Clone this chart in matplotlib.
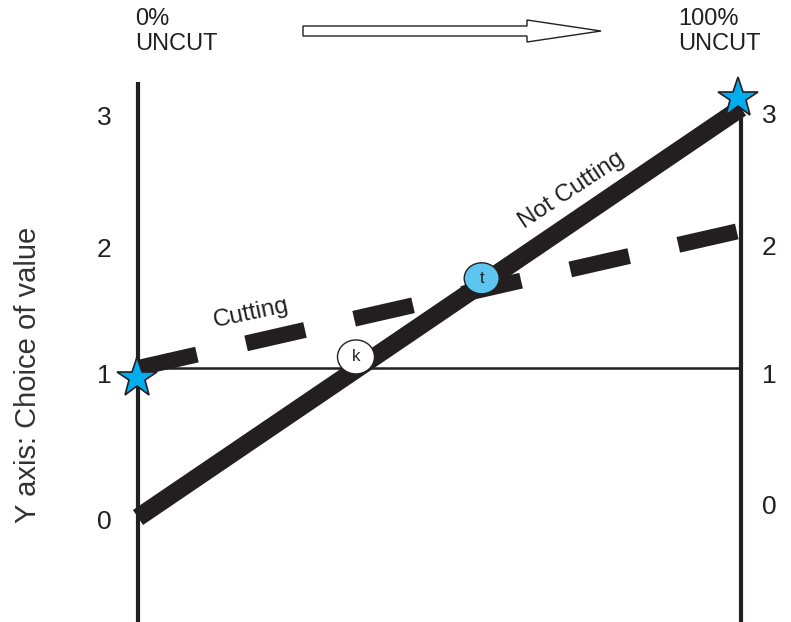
import matplotlib
matplotlib.use("Agg")
import matplotlib.pyplot as plt
from matplotlib.patches import FancyArrow, Ellipse

plt.rcParams['font.family'] = ['Liberation Sans', 'DejaVu Sans']

# ---- data ----
x_ends = [0.0, 1.0]
not_cutting_y = [-0.15, 3.0]          # solid line
cutting_x = [0.0, 0.993]
cutting_y = [1.0, 2.05]               # dashed line
baseline_y = [1.0, 1.0]
star_x = [-0.002, 0.995]
star_y = [0.92, 3.08]
k_point = (0.3615, 1.085)
t_point = (0.570, 1.69)
tick_labels = ["0", "1", "2", "3"]
left_tick_pos = [-0.185, 0.938, 1.908, 2.923]
right_tick_pos = [-0.069, 0.938, 1.923, 2.938]
left_axis_top = 3.2
right_axis_top = 3.0

W, H = 791, 622
fig = plt.figure(figsize=(W / 100, H / 100), dpi=100)
ax = fig.add_axes([0, 0, 1, 1])
# pixel mapping: x=0 -> 138px, x=1 -> 741px ; y=1 -> 368px, 130px per unit
ax.set_xlim(-138 / 603, (W - 138) / 603)
ax.set_ylim(1 - (H - 368) / 130, 1 + 368 / 130)
ax.axis('off')

ink = '#231f20'
ybot = 1 - (H - 368) / 130

# vertical axis lines
ax.plot([0, 0], [ybot, left_axis_top], color=ink, lw=3, solid_capstyle='butt', zorder=2)
ax.plot([1, 1], [ybot, right_axis_top], color=ink, lw=3, solid_capstyle='butt', zorder=2)
# baseline at 1
ax.plot(x_ends, baseline_y, color=ink, lw=1.8, solid_capstyle='butt', zorder=2)

# not cutting (solid)
ax.plot(x_ends, not_cutting_y, color=ink, lw=13, solid_capstyle='butt', zorder=3)
# cutting (dashed)
lw_d = 11.5
ax.plot(cutting_x, cutting_y, color=ink, lw=lw_d, dash_capstyle='butt',
        linestyle=(0, (43.5 / lw_d, 36.3 / lw_d)), zorder=3)

# stars
ax.plot(star_x, star_y, linestyle='none', marker='*', markersize=30,
        markerfacecolor='#00aeef', markeredgecolor=ink, markeredgewidth=1.2, zorder=5)

# k and t circles (ellipses in data units sized in pixels)
def circ(pt, wpx, hpx, fc, label):
    e = Ellipse(pt, wpx / 603, hpx / 130, facecolor=fc, edgecolor=ink, lw=1.0, zorder=6)
    ax.add_patch(e)
    ax.text(pt[0], pt[1], label, ha='center', va='center', fontsize=12,
            color=ink, zorder=7)

circ(k_point, 37, 34, 'white', 'k')
circ(t_point, 35, 31, '#5cc6f0', 't')

# tick labels
for lab, yv in zip(tick_labels, left_tick_pos):
    ax.text((104 - 138) / 603, yv, lab, ha='center', va='center', fontsize=19, color=ink)
for lab, yv in zip(tick_labels, right_tick_pos):
    ax.text((769 - 138) / 603, yv, lab, ha='center', va='center', fontsize=19, color=ink)

# line labels
ax.text((251 - 138) / 603, 1 + (368 - 313) / 130, "Cutting", rotation=12,
        ha='center', va='center', fontsize=17.5, color=ink, rotation_mode='anchor')
ax.text((572 - 138) / 603, 1 + (368 - 190) / 130, "Not Cutting", rotation=33.5,
        ha='center', va='center', fontsize=17.5, color=ink, rotation_mode='anchor')

# y axis title
fig.text(28 / W, 1 - 375 / H, "Y axis: Choice of value", rotation=90,
         ha='center', va='center', fontsize=21, color='#333333')

# top labels
fig.text(135 / W, 1 - 8 / H, "0%\nUNCUT", ha='left', va='top', fontsize=17,
         color=ink, linespacing=1.15)
fig.text(678 / W, 1 - 8 / H, "100%\nUNCUT", ha='left', va='top', fontsize=17,
         color=ink, linespacing=1.15)

# hollow arrow (in inches)
arr = FancyArrow(3.03, (H - 31) / 100, 2.98, 0, width=0.10, head_width=0.22,
                 head_length=0.74, length_includes_head=True,
                 facecolor='white', edgecolor=ink, lw=1.0,
                 transform=fig.dpi_scale_trans)
fig.patches.append(arr)

fig.savefig("out.png", dpi=100)
